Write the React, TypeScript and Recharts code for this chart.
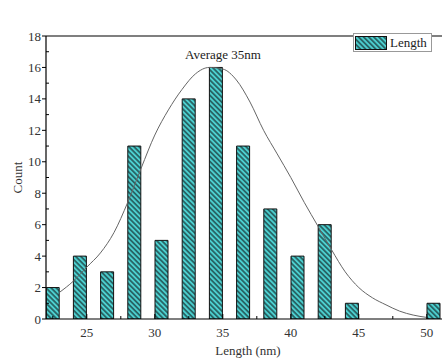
import React from "react";
import {
  ComposedChart,
  Bar,
  Line,
  XAxis,
  YAxis,
  ReferenceLine,
  Label,
  Legend,
} from "recharts";

// histogram bins (nm) and counts
const binCenters = [22.5, 24.5, 26.5, 28.5, 30.5, 32.5, 34.5, 36.5, 38.5, 40.5, 42.5, 44.5, 46.5, 48.5, 50.5];
const counts = [2, 4, 3, 11, 5, 14, 16, 11, 7, 4, 6, 1, 0, 0, 1];

// fitted curve
const fitX = [23, 24, 25, 26, 27, 28, 29, 30, 31, 32, 33, 34, 35, 36, 37, 38, 39, 40, 41, 42, 43, 44, 45, 46, 47, 48, 49, 50];
const fitY = [1.7, 2.4, 3.3, 4.2, 5.5, 7.4, 9.6, 11.7, 13.3, 14.6, 15.6, 16.0, 15.9, 15.2, 13.8, 12.0, 10.5, 9.0, 7.4, 5.9, 4.4, 3.0, 2.0, 1.35, 0.9, 0.5, 0.25, 0.1];

const xTicks = [22.5, 25, 27.5, 30, 32.5, 35, 37.5, 40, 42.5, 45, 47.5, 50];
const yTicks = [0, 1, 2, 3, 4, 5, 6, 7, 8, 9, 10, 11, 12, 13, 14, 15, 16, 17, 18];

const FONT = "'Liberation Serif', 'Times New Roman', serif";
const TEAL = "#4ccfcf";
const STRIPE = "#1b3c3e";

const barData = binCenters.map((x, i) => ({ x, count: counts[i] > 0 ? counts[i] : undefined }));
const fitData = fitX.map((x, i) => ({ x, fit: fitY[i] }));

const HatchDefs = ({ id }: { id: string }) => (
  <defs>
    <pattern id={id} patternUnits="userSpaceOnUse" width={4} height={3.6} patternTransform="rotate(45)">
      <rect x={0} y={0} width={4} height={3.6} fill={TEAL} />
      <line x1={0} y1={1.8} x2={4} y2={1.8} stroke={STRIPE} strokeWidth={1.3} />
    </pattern>
  </defs>
);

const YTick = (props: any) => {
  const { x, y, payload } = props;
  const v = payload.value as number;
  const major = v % 2 === 0;
  return (
    <g>
      <line x1={major ? x - 4 : x} x2={major ? x : x + 3} y1={y} y2={y} stroke="#000" strokeWidth={1} />
      {major && (
        <text x={x - 5} y={y} dy={4.5} textAnchor="end" fontSize={13} fontFamily={FONT} fill="#333">
          {v}
        </text>
      )}
    </g>
  );
};

const XTick = (props: any) => {
  const { x, y, payload } = props;
  const v = payload.value as number;
  const major = v % 5 === 0;
  return (
    <g>
      <line x1={x} x2={x} y1={y} y2={major ? y - 5 : y - 3} stroke="#000" strokeWidth={1} />
      {major && (
        <text x={x} y={y} dy={17.5} textAnchor="middle" fontSize={13} fontFamily={FONT} fill="#333">
          {v}
        </text>
      )}
    </g>
  );
};

const LegendBox = () => (
  <div
    style={{
      display: "flex",
      alignItems: "center",
      border: "1px solid #999",
      height: 19,
      width: 79,
      boxSizing: "border-box",
      padding: "0 1px",
      background: "#fff",
    }}
  >
    <svg width={32} height={14} style={{ display: "block" }}>
      <HatchDefs id="hatchLegend" />
      <rect x={0.5} y={0.5} width={31} height={13} fill="url(#hatchLegend)" stroke="#111" />
    </svg>
    <span style={{ fontFamily: FONT, fontSize: 13, color: "#222", marginLeft: 3, lineHeight: "16px" }}>Length</span>
  </div>
);

export default function App() {
  return (
    <div
      style={{
        position: "fixed",
        top: 0,
        left: 0,
        width: 442,
        height: 360,
        overflow: "hidden",
        background: "#fff",
      }}
    >
      <ComposedChart
        width={460}
        height={360}
        data={barData}
        margin={{ top: 17, right: 6, bottom: 0, left: 0 }}
      >
        <HatchDefs id="hatchBar" />
        <XAxis
          dataKey="x"
          type="number"
          domain={[22, 52]}
          ticks={xTicks}
          interval={0}
          height={41}
          tickSize={0}
          tickMargin={0}
          tickLine={false}
          tick={<XTick />}
          axisLine={{ stroke: "#000", strokeWidth: 1.2 }}
          allowDataOverflow
        >
          <Label value="Length (nm)" position="center" dy={11} dx={-2} fontSize={13} fontFamily={FONT} fill="#333" />
        </XAxis>
        <XAxis xAxisId="fit" dataKey="x" type="number" domain={[22, 52]} hide allowDataOverflow />
        <YAxis
          type="number"
          domain={[0, 18]}
          ticks={yTicks}
          interval={0}
          width={46}
          tickSize={0}
          tickMargin={0}
          tickLine={false}
          tick={<YTick />}
          axisLine={{ stroke: "#000", strokeWidth: 1.2 }}
          allowDataOverflow
        >
          <Label value="Count" angle={-90} position="center" dx={-6} fontSize={13} fontFamily={FONT} fill="#333" />
        </YAxis>
        <ReferenceLine y={18} stroke="#000" strokeWidth={1.2}>
          <Label value="Average 35nm" position="insideTop" offset={14} dx={-27} fontSize={13} fontFamily={FONT} fill="#222" />
        </ReferenceLine>
        <Legend
          verticalAlign="top"
          align="right"
          wrapperStyle={{ position: "absolute", top: 33, left: 353, width: 80 }}
          content={<LegendBox />}
        />
        <Line
          xAxisId="fit"
          data={fitData}
          dataKey="fit"
          type="monotone"
          stroke="#666"
          strokeWidth={1}
          dot={false}
          activeDot={false}
          legendType="none"
          isAnimationActive={false}
        />
        <Bar dataKey="count" name="Length" barSize={13} fill="url(#hatchBar)" stroke="#111" strokeWidth={1} isAnimationActive={false} />
      </ComposedChart>
    </div>
  );
}
